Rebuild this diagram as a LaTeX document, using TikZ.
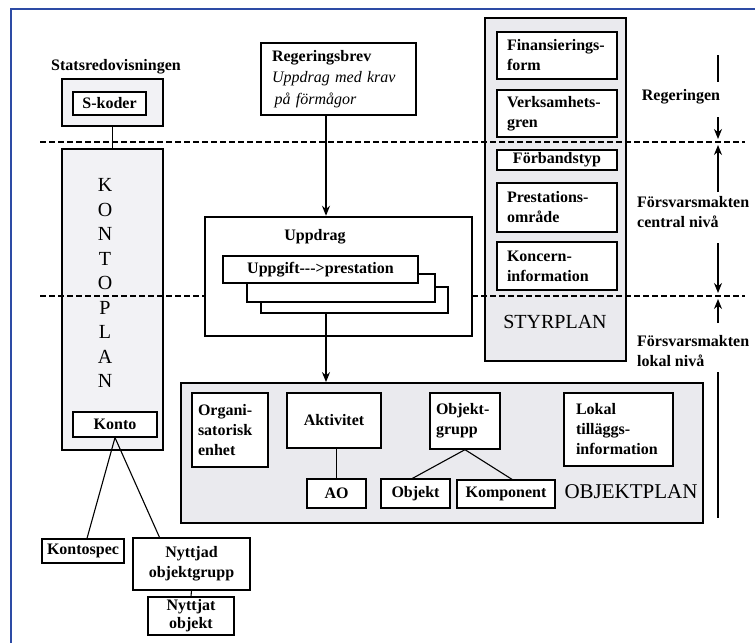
\documentclass[tikz,border=0pt]{standalone}
\usepackage{fontspec}
\setmainfont{Liberation Serif}
\usetikzlibrary{arrows.meta,calc}
\definecolor{frameblue}{RGB}{45,75,165}
\definecolor{planfill}{RGB}{234,234,238}
\definecolor{kontofill}{RGB}{242,242,245}
\begin{document}
\begin{tikzpicture}[x=1pt,y=-1pt,
  lbl/.style={font=\bfseries\fontsize{16}{20}\selectfont, inner sep=0pt},
  bx/.style={draw, fill=white, line width=1.3pt, font=\bfseries\fontsize{16}{20}\selectfont, inner sep=0pt},
  plan/.style={draw, line width=1.4pt, fill=planfill, inner sep=0pt},
  big/.style={font=\fontsize{20}{24}\selectfont, inner sep=0pt},
  conn/.style={line width=1.1pt},
  arr/.style={line width=1.3pt, -{Stealth[length=10pt,width=8pt]}},
  levline/.style={line width=1.5pt, dash pattern=on 6pt off 3pt},
]
\useasboundingbox (0,0) rectangle (755,643);
\fill[white] (0,0) rectangle (755,643);

% frame
\coordinate (ftl) at (11,9);
\coordinate (ftr) at (755,9);
\coordinate (fbl) at (11,643);
\draw[frameblue, line width=2pt] (ftr) -- (ftl) -- (fbl);

% plan backgrounds
\node[plan, minimum width=141pt, minimum height=343pt] (styrplan) at (555.5,189.5) {};
\node[plan, fill=kontofill, minimum width=101pt, minimum height=301pt] (kontoplan) at (112.5,299.5) {};
\node[plan, line width=1.8pt, minimum width=522pt, minimum height=140pt] (objektplan) at (442,453) {};

% level lines
\coordinate (d1l) at (40,142);
\coordinate (d1r) at (745,142);
\coordinate (d2l) at (40,296);
\coordinate (d2r) at (745,296);
\draw[levline] (d1l) -- (d1r);

% Statsredovisningen
\node[plan, fill=kontofill, minimum width=101pt, minimum height=47pt] (statbox) at (112.5,102.5) {};
\node[bx, minimum width=73pt, minimum height=23pt] (skoder) at (109.5,103.5) {S-koder};
\node[lbl] (statlabel) at (116,67) {Statsredovisningen};
\draw[conn] (statbox.south) -- (kontoplan.north);

% KONTOPLAN
\node[big, align=center, font=\fontsize{20}{24.5}\selectfont] (kontotext) at (105,283) {K\\O\\N\\T\\O\\P\\L\\A\\N};
\node[bx, minimum width=84pt, minimum height=25pt] (konto) at (115,424.5) {Konto};
\node[bx, minimum width=82pt, minimum height=24pt] (kontospec) at (83,551) {Kontospec};
\node[bx, minimum width=117pt, minimum height=52pt, align=center] (nyttjadgrp) at (191.5,564) {Nyttjad\\objektgrupp};
\node[bx, minimum width=86pt, minimum height=38pt, align=center, font=\bfseries\fontsize{16}{18}\selectfont] (nyttjatobj) at (191,616) {Nyttjat\\objekt};
\draw[conn] (konto.south) -- ($(kontospec.north)+(4,0)$);
\draw[conn] (konto.south) -- ($(nyttjadgrp.north)+(-32,0)$);
\draw[conn] (nyttjadgrp.south) -- (nyttjatobj.north);

% STYRPLAN
\node[bx, minimum height=47pt, text width=100pt, inner xsep=10pt, align=left] (fin) at (557,55.5) {Finansierings-\\form};
\node[bx, minimum height=47pt, text width=100pt, inner xsep=10pt, align=left] (verk) at (557,113.5) {Verksamhets-\\gren};
\node[bx, minimum width=120pt, minimum height=20pt] (forb) at (557,160) {Förbandstyp};
\node[bx, minimum height=49pt, text width=100pt, inner xsep=10pt, align=left] (prest) at (557,207.5) {Prestations-\\område};
\node[bx, minimum height=48pt, text width=100pt, inner xsep=10pt, align=left] (konc) at (557,266) {Koncern-\\information};
\node[big] (styrtxt) at (555,322) {STYRPLAN};

% Regeringsbrev
\node[bx, minimum height=72pt, text width=133pt, inner xsep=11pt, align=left, font=\fontsize{16}{21.5}\selectfont] (regbrev) at (338.5,79) {\textbf{Regeringsbrev}\\\textit{Uppdrag med krav}\\\textit{\,på förmågor}};

% Uppdrag
\draw[levline] (d2l) -- (d2r);
\node[draw, fill=white, line width=2.5pt, minimum width=267pt, minimum height=119pt] (uppdrag) at (338.5,276.5) {};
\node[lbl] (uppdragtxt) at (315,237) {Uppdrag};
\node[bx, minimum width=187pt, minimum height=26pt] (stack3) at (354.5,300) {};
\node[bx, minimum width=188pt, minimum height=28pt] (stack2) at (341,288) {};
\node[bx, minimum width=195pt, minimum height=27pt] (stack1) at (320.5,269.5) {Uppgift-{}-{}->prestation};

\coordinate (ax) at (326,0);
\draw[arr] (regbrev.south -| ax) -- (uppdrag.north -| ax);
\draw[arr] (stack3.south -| ax) -- (objektplan.north -| ax);

% OBJEKTPLAN contents
\node[bx, minimum height=74pt, text width=64pt, inner xsep=6pt, align=left] (orgenhet) at (230,430) {Organi-\\satorisk\\enhet};
\node[bx, minimum width=94pt, minimum height=55pt] (aktivitet) at (334,420.5) {Aktivitet};
\node[bx, minimum width=59pt, minimum height=29pt] (ao) at (336.5,493.5) {AO};
\node[bx, minimum height=56pt, text width=58pt, inner xsep=6pt, align=left] (objgrp) at (465,421) {Objekt-\\grupp};
\node[bx, minimum width=69pt, minimum height=29pt] (objekt) at (415.5,493.5) {Objekt};
\node[bx, minimum width=98pt, minimum height=28pt] (komponent) at (506,494) {Komponent};
\node[bx, minimum height=73pt, text width=85pt, inner xsep=12pt, align=left] (lokal) at (618.5,429.5) {Lokal\\tilläggs-\\information};
\node[big, font=\fontsize{21}{24}\selectfont] (objplantxt) at (631,492) {OBJEKTPLAN};
\draw[conn] (ao.north |- aktivitet.south) -- (ao.north);
\draw[conn] (objgrp.south) -- ($(objekt.north)+(-3,0)$);
\draw[conn] (objgrp.south) -- ($(komponent.north)+(6,0)$);

% level annotations
\coordinate (r1a) at (718,55);
\coordinate (r1b) at (718,82);
\coordinate (r2a) at (718,117);
\coordinate (r2b) at (718,139);
\coordinate (r3a) at (718,192);
\coordinate (r3b) at (718,145);
\coordinate (r4a) at (718,243);
\coordinate (r4b) at (718,293);
\coordinate (r5a) at (718,323);
\coordinate (r5b) at (718,299);
\coordinate (r6a) at (718,372);
\coordinate (r6b) at (718,518);
\node[lbl] (regtxt) at (681,97) {Regeringen};
\node[lbl, align=left, anchor=west] (fmc) at (637,212.5) {Försvarsmakten\\central nivå};
\node[lbl, align=left, anchor=west] (fml) at (637,351.5) {Försvarsmakten\\lokal nivå};
\draw[conn] (r1a) -- (r1b);
\draw[arr] (r2a) -- (r2b);
\draw[arr] (r3a) -- (r3b);
\draw[arr] (r4a) -- (r4b);
\draw[arr] (r5a) -- (r5b);
\draw[conn] (r6a) -- (r6b);
\end{tikzpicture}
\end{document}
